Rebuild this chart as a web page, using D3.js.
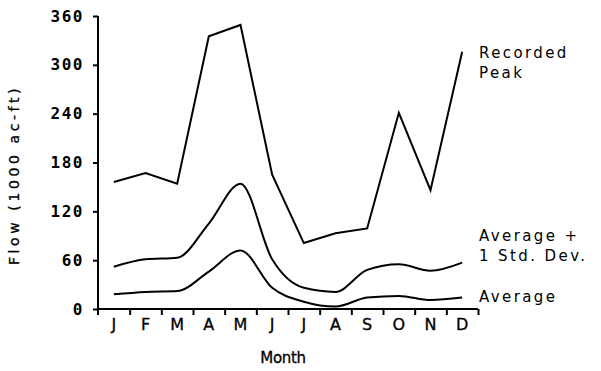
<!DOCTYPE html>
<html>
<head>
<meta charset="utf-8">
<script src="https://cdn.jsdelivr.net/npm/d3@7"></script>
<style>
  html, body { margin: 0; padding: 0; background: #fff; }
  svg text { font-family: "DejaVu Sans", sans-serif; fill: #000; }
</style>
</head>
<body>
<svg id="chart" width="601" height="371"></svg>
<script>
// Monthly flow at the gauge, thousands of acre-feet
const months = ["Jan", "Feb", "Mar", "Apr", "May", "Jun", "Jul", "Aug", "Sep", "Oct", "Nov", "Dec"];
const monthLabels = ["J", "F", "M", "A", "M", "J", "J", "A", "S", "O", "N", "D"];
const recordedPeak = [156, 167, 154, 335, 349, 165, 81, 93, 99, 241, 146, 316];
const avgPlusSD = [52, 61, 63, 105, 154, 61, 26, 21, 48, 55, 47, 57];
const average = [18, 21, 22, 46, 72, 26, 9, 3, 14, 16, 11, 14];
const yTicks = [0, 60, 120, 180, 240, 300, 360];

const svg = d3.select("#chart");

const x = d3.scaleBand().domain(months).range([98, 478]).padding(0);
const xEdge = d3.scaleLinear().domain([0, 12]).range([98, 478]);
const y = d3.scaleLinear().domain([0, 360]).range([309, 16]);
const cx = i => x(months[i]) + x.bandwidth() / 2;

// y axis
const yAxis = svg.append("g")
  .attr("transform", "translate(98,0)")
  .call(d3.axisLeft(y).tickValues(yTicks).tickSize(5).tickPadding(9).tickFormat(d3.format("d")));
yAxis.select(".domain").attr("stroke", "#000").attr("stroke-width", 2).attr("d", "M-0,16V315");
yAxis.selectAll(".tick line").attr("stroke", "#000").attr("stroke-width", 2);
yAxis.selectAll(".tick text")
  .style("font-family", "'DejaVu Sans Mono', monospace")
  .style("font-weight", "bold")
  .style("font-size", "16px")
  .style("letter-spacing", "1.5px");

// x axis: month boundaries as tick marks
const xTickAxis = svg.append("g")
  .attr("transform", "translate(0,309)")
  .call(d3.axisBottom(xEdge).tickValues(d3.range(1, 13)).tickSize(6).tickFormat(""));
xTickAxis.select(".domain").attr("stroke", "#000").attr("stroke-width", 2).attr("d", "M98,0H478");
xTickAxis.selectAll(".tick line").attr("stroke", "#000").attr("stroke-width", 2);

// x axis: month initials centred in each band
const xLabelAxis = svg.append("g")
  .attr("transform", "translate(0,309)")
  .call(d3.axisBottom(x).tickSize(0).tickPadding(10).tickFormat((d, i) => monthLabels[i]));
xLabelAxis.select(".domain").remove();
xLabelAxis.selectAll(".tick text")
  .style("font-size", "16px")
  .style("stroke", "#000").style("stroke-width", "0.3px");

// axis titles
svg.append("text")
  .attr("x", 283).attr("y", 363)
  .attr("text-anchor", "middle")
  .style("font-size", "15px").style("letter-spacing", "-0.3px")
  .style("stroke", "#000").style("stroke-width", "0.3px")
  .text("Month");

svg.append("text")
  .attr("transform", "translate(19,175) rotate(-90)")
  .attr("text-anchor", "middle")
  .style("font-size", "14px").style("letter-spacing", "3.6px")
  .style("stroke", "#000").style("stroke-width", "0.3px")
  .text("Flow (1000 ac-ft)");

// series
const straight = d3.line().x((d, i) => cx(i)).y(d => y(d));
const smooth = d3.line().x((d, i) => cx(i)).y(d => y(d)).curve(d3.curveMonotoneX);

svg.append("path").datum(recordedPeak).attr("d", straight)
  .attr("fill", "none").attr("stroke", "#000").attr("stroke-width", 2).attr("stroke-linejoin", "miter");
svg.append("path").datum(avgPlusSD).attr("d", smooth)
  .attr("fill", "none").attr("stroke", "#000").attr("stroke-width", 2);
svg.append("path").datum(average).attr("d", smooth)
  .attr("fill", "none").attr("stroke", "#000").attr("stroke-width", 2);

// series names at the right end
const labels = [
  { lines: ["Recorded", "Peak"], y: 58 },
  { lines: ["Average +", "1 Std. Dev."], y: 241 },
  { lines: ["Average"], y: 302 }
];
labels.forEach(l => {
  const t = svg.append("text").attr("x", 479).attr("y", l.y)
    .style("font-size", "15px").style("letter-spacing", "2.4px");
  l.lines.forEach((s, k) => t.append("tspan").attr("x", 479).attr("dy", k ? 20 : 0).text(s));
});
</script>
</body>
</html>
